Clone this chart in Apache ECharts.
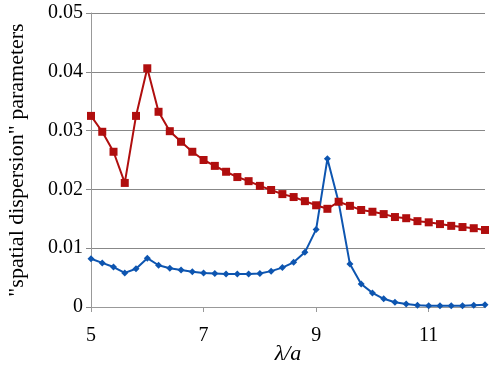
<!DOCTYPE html>
<html><head><meta charset="utf-8">
<script src="https://cdn.jsdelivr.net/npm/echarts@6/dist/echarts.min.js"></script>
<style>html,body{margin:0;padding:0;background:#fff}#c{width:498px;height:372px}</style>
</head><body><div id="c"></div>
<script>
const xValues = [5.0,5.2,5.4,5.6,5.8,6.0,6.2,6.4,6.6,6.8,7.0,7.2,7.4,7.6,7.8,8.0,8.2,8.4,8.6,8.8,9.0,9.2,9.4,9.6,9.8,10.0,10.2,10.4,10.6,10.8,11.0,11.2,11.4,11.6,11.8,12.0];
const redSeries = [0.0325,0.0298,0.0264,0.0211,0.0325,0.0406,0.0332,0.0299,0.0281,0.0264,0.0250,0.0240,0.0230,0.0221,0.0214,0.0206,0.0199,0.0192,0.0187,0.0180,0.0173,0.0167,0.0179,0.0172,0.0165,0.0162,0.0158,0.0153,0.0151,0.0146,0.0144,0.0141,0.0138,0.0136,0.0134,0.0131];
const blueSeries = [0.0082,0.0075,0.0068,0.0058,0.0065,0.0083,0.0071,0.0066,0.0063,0.0060,0.0058,0.0057,0.0056,0.0056,0.0056,0.0057,0.0061,0.0067,0.0076,0.0093,0.0132,0.0252,0.0178,0.0073,0.0039,0.0024,0.0014,0.0008,0.0005,0.0003,0.0002,0.0002,0.0002,0.0002,0.0003,0.0004];
const xTicks = [5,7,9,11];
const yTicks = [0,0.01,0.02,0.03,0.04,0.05];
const yLabels = ['0','0.01','0.02','0.03','0.04','0.05'];

const chart = echarts.init(document.getElementById('c'));
const font = '"Liberation Serif", "Times New Roman", serif';
chart.setOption({
  animation:false,
  grid:{left:91,top:13,right:13,bottom:65,outerBoundsMode:'none',containLabel:false},
  xAxis:{type:'value',min:5,max:12,
    name:'λ/a',nameLocation:'middle',nameGap:36,nameMoveOverlap:false,
    nameTextStyle:{fontFamily:font,fontStyle:'italic',fontSize:22,color:'#000'},
    axisLine:{show:true,lineStyle:{color:'#999',width:1}},
    axisTick:{show:true,length:5,lineStyle:{color:'#999'},customValues:xTicks},
    axisLabel:{fontFamily:font,fontSize:20,color:'#000',margin:19,customValues:xTicks},
    splitLine:{show:false}},
  yAxis:{type:'value',min:0,max:0.05,interval:0.01,
    name:'"spatial dispersion" parameters',nameLocation:'middle',nameGap:63,nameMoveOverlap:false,
    nameTextStyle:{fontFamily:font,fontSize:22,color:'#000'},
    axisLine:{show:true,lineStyle:{color:'#999',width:1}},
    axisTick:{show:true,length:5,lineStyle:{color:'#888'}},
    axisLabel:{fontFamily:font,fontSize:20,color:'#000',margin:8,
      formatter:v=>{const i=yTicks.findIndex(t=>Math.abs(t-v)<1e-9);return i>=0?yLabels[i]:'';}},
    splitLine:{show:true,lineStyle:{color:'#888',width:1}}},
  series:[
    {type:'line',data:xValues.map((x,i)=>[x,blueSeries[i]]),symbol:'diamond',symbolSize:7,
     lineStyle:{color:'#0D55B0',width:2},itemStyle:{color:'#0D55B0'},z:2},
    {type:'line',data:xValues.map((x,i)=>[x,redSeries[i]]),symbol:'rect',symbolSize:8,
     lineStyle:{color:'#B00E0E',width:2},itemStyle:{color:'#B00E0E'},z:3}
  ]
});
</script></body></html>
